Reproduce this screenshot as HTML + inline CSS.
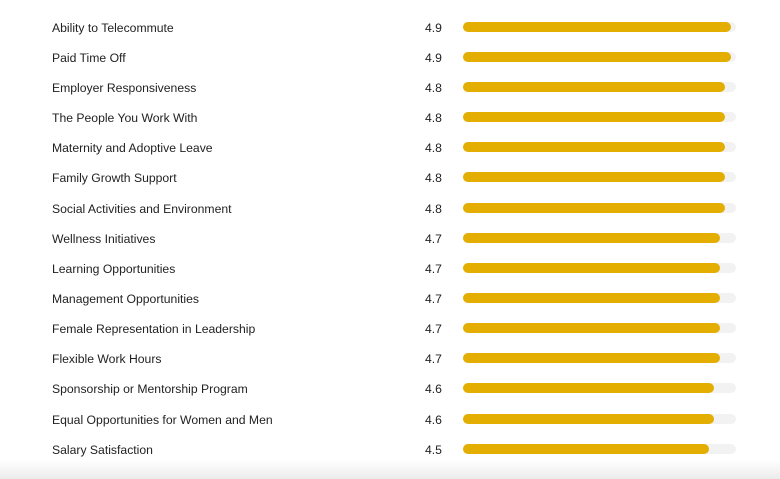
<!DOCTYPE html>
<html><head><style>
body{margin:0;width:780px;height:479px;background:#fff;position:relative;overflow:hidden;font-family:"Liberation Sans",sans-serif;color:#222;}
.r{position:absolute;left:0;width:780px;height:20px;}
.l{position:absolute;left:52px;top:1px;font-size:12.2px;line-height:20px;}
.v{position:absolute;left:425px;top:1px;font-size:12.2px;line-height:20px;}
.t{position:absolute;left:463px;top:5px;width:273px;height:10px;border-radius:5px;background:#f2f2f2;}
.f{height:10px;border-radius:5px;background:#e3ae00;}
.sh{position:absolute;left:0;top:460px;width:780px;height:19px;background:linear-gradient(#fff,#ebebeb);}
</style></head><body>
<div class="sh"></div>
<div class="r" style="top:17px"><span class="l">Ability to Telecommute</span><span class="v">4.9</span><div class="t"><div class="f" style="width:268px"></div></div></div>
<div class="r" style="top:47px"><span class="l">Paid Time Off</span><span class="v">4.9</span><div class="t"><div class="f" style="width:268px"></div></div></div>
<div class="r" style="top:77px"><span class="l">Employer Responsiveness</span><span class="v">4.8</span><div class="t"><div class="f" style="width:262px"></div></div></div>
<div class="r" style="top:107px"><span class="l">The People You Work With</span><span class="v">4.8</span><div class="t"><div class="f" style="width:262px"></div></div></div>
<div class="r" style="top:137px"><span class="l">Maternity and Adoptive Leave</span><span class="v">4.8</span><div class="t"><div class="f" style="width:262px"></div></div></div>
<div class="r" style="top:167px"><span class="l">Family Growth Support</span><span class="v">4.8</span><div class="t"><div class="f" style="width:262px"></div></div></div>
<div class="r" style="top:198px"><span class="l">Social Activities and Environment</span><span class="v">4.8</span><div class="t"><div class="f" style="width:262px"></div></div></div>
<div class="r" style="top:228px"><span class="l">Wellness Initiatives</span><span class="v">4.7</span><div class="t"><div class="f" style="width:257px"></div></div></div>
<div class="r" style="top:258px"><span class="l">Learning Opportunities</span><span class="v">4.7</span><div class="t"><div class="f" style="width:257px"></div></div></div>
<div class="r" style="top:288px"><span class="l">Management Opportunities</span><span class="v">4.7</span><div class="t"><div class="f" style="width:257px"></div></div></div>
<div class="r" style="top:318px"><span class="l">Female Representation in Leadership</span><span class="v">4.7</span><div class="t"><div class="f" style="width:257px"></div></div></div>
<div class="r" style="top:348px"><span class="l">Flexible Work Hours</span><span class="v">4.7</span><div class="t"><div class="f" style="width:257px"></div></div></div>
<div class="r" style="top:378px"><span class="l">Sponsorship or Mentorship Program</span><span class="v">4.6</span><div class="t"><div class="f" style="width:251px"></div></div></div>
<div class="r" style="top:409px"><span class="l">Equal Opportunities for Women and Men</span><span class="v">4.6</span><div class="t"><div class="f" style="width:251px"></div></div></div>
<div class="r" style="top:439px"><span class="l">Salary Satisfaction</span><span class="v">4.5</span><div class="t"><div class="f" style="width:246px"></div></div></div>
</body></html>
